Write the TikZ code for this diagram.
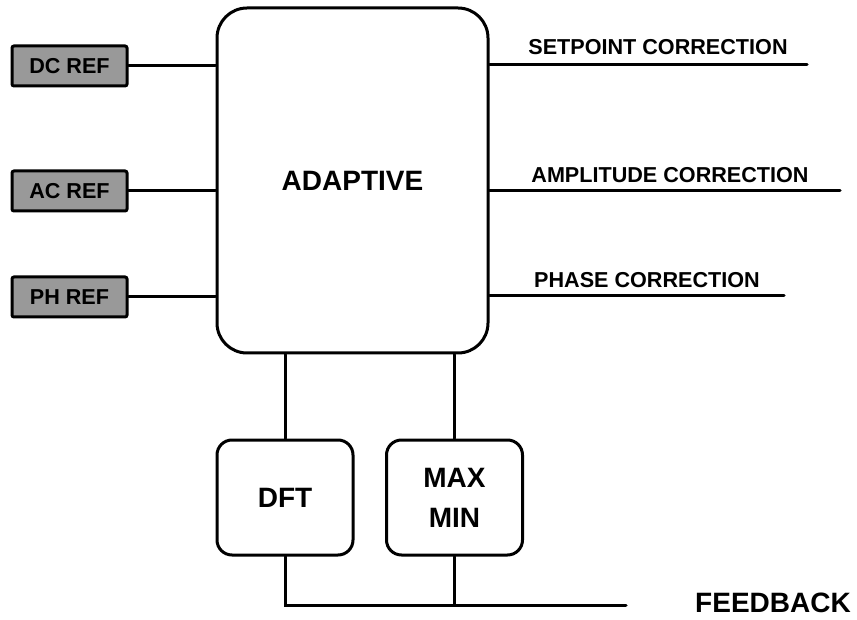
\documentclass[tikz,border=0pt]{standalone}
\usepackage{fontspec}
\setmainfont{Liberation Sans}
\begin{document}
\begin{tikzpicture}[x=1pt,y=-1pt]
    \definecolor{refgray}{rgb}{0.6, 0.6, 0.6};
\useasboundingbox (0,0) rectangle (857,620);
 \tikzstyle{every node}=[inner sep=0pt,font=\bfseries\fontsize{21.6}{26}\selectfont];
 \tikzstyle{bigtext}=[font=\bfseries\fontsize{28}{40}\selectfont];
 \tikzstyle{refbox}=[draw,line width=3pt,fill=refgray,rounded corners=2pt,minimum width=115pt,minimum height=40pt];
 \tikzstyle{procbox}=[draw,line width=3pt,rounded corners=15pt,minimum width=136pt,minimum height=115pt,align=center,bigtext];
 \tikzstyle{wire}=[line width=3pt,line cap=round];
% inputs and the adaptive block
\node [refbox] (dc) at (69.5,66) {DC REF};
\node [refbox] (ac) at (69.5,191) {AC REF};
\node [refbox] (ph) at (69.5,297) {PH REF};
\node [draw,line width=3pt,rounded corners=30pt,minimum width=271pt,minimum height=345pt,bigtext] (adapt) at (352.5,180.5) {ADAPTIVE};
\foreach \r in {dc,ac,ph} {
    \draw [wire] (\r.east) -- (\r.east -| adapt.west);
  }
% corrections
\coordinate (sp) at (807,65);
\coordinate (am) at (840,191);
\coordinate (pc) at (784,296);
\draw [wire] (adapt.east |- sp) -- (sp);
\draw [wire] (adapt.east |- am) -- (am);
\draw [wire] (adapt.east |- pc) -- (pc);
\node (spl) at (658,47) {SETPOINT CORRECTION};
\node (aml) at (670,175) {AMPLITUDE CORRECTION};
\node (pcl) at (647,280) {PHASE CORRECTION};
% feedback path
\node [procbox] (dft) at (285,497.5) {DFT};
\node [procbox] (mm) at (454.5,497.5) {MAX\\MIN};
\draw [wire] (dft.north) -- (dft.north |- adapt.south);
\draw [wire] (mm.north) -- (mm.north |- adapt.south);
\coordinate (fb) at (626,605);
\draw [wire] (dft.south) -- (dft.south |- fb) -- (fb);
\draw [wire] (mm.south) -- (mm.south |- fb);
\node [bigtext] (fbl) at (773,603) {FEEDBACK};
\end{tikzpicture}
\end{document}
